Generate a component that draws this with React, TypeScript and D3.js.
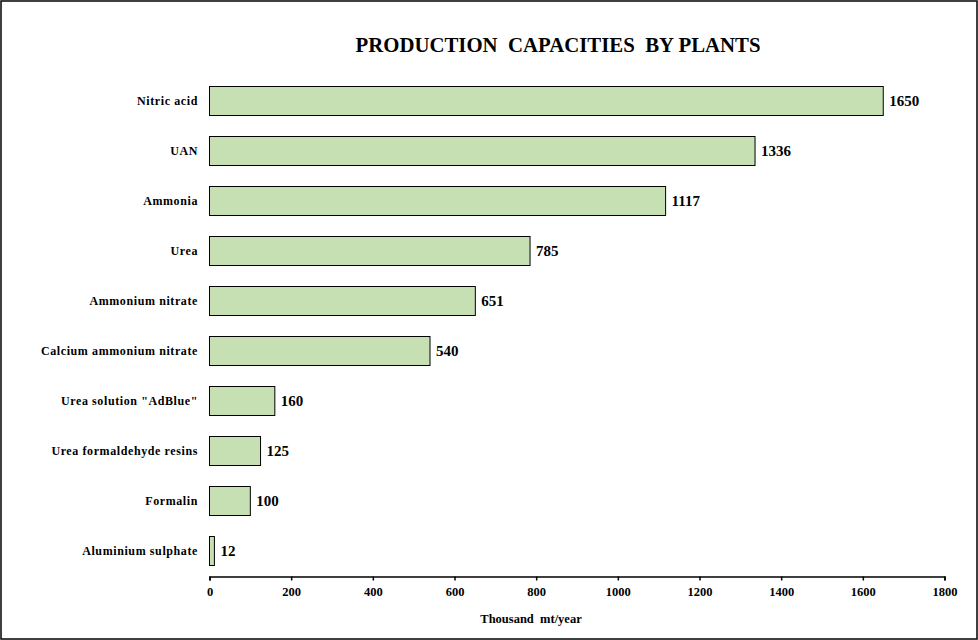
import React, { useEffect, useRef } from 'react';
import * as d3 from 'd3';

// data
const categories = [
  'Nitric acid',
  'UAN',
  'Ammonia',
  'Urea',
  'Ammonium nitrate',
  'Calcium ammonium nitrate',
  'Urea solution "AdBlue"',
  'Urea formaldehyde resins',
  'Formalin',
  'Aluminium sulphate',
];
const capacities = [1650, 1336, 1117, 785, 651, 540, 160, 125, 100, 12];
const xTicks = [0, 200, 400, 600, 800, 1000, 1200, 1400, 1600, 1800];

const App = () => {
  const svgRef = useRef<SVGSVGElement>(null);

  useEffect(() => {
    const width = 978;
    const height = 640;
    const margin = { top: 76, right: 33.5, bottom: 64, left: 209.5 };

    const svg = d3.select(svgRef.current);
    svg.selectAll('*').remove();
    svg.attr('width', width).attr('height', height);

    const font = '"Liberation Serif", "Times New Roman", serif';

    // frame
    svg.append('rect')
      .attr('x', 1).attr('y', 1)
      .attr('width', width - 2).attr('height', height - 2)
      .attr('fill', '#fff').attr('stroke', '#000').attr('stroke-width', 1.5);

    svg.append('text')
      .attr('x', 558).attr('y', 52)
      .attr('text-anchor', 'middle')
      .style('font-family', font).style('font-weight', 'bold').style('font-size', '20.8px')
      .style('white-space', 'pre')
      .text('PRODUCTION  CAPACITIES  BY PLANTS');

    const x = d3.scaleLinear().domain([0, 1800]).range([margin.left, width - margin.right]);
    const y = d3.scaleBand<string>()
      .domain(categories)
      .range([margin.top, height - margin.bottom])
      .paddingInner(0.42)
      .paddingOuter(0.21);

    const rows = categories.map((c, i) => ({ c, v: capacities[i] }));

    svg.append('g').selectAll('rect')
      .data(rows).enter().append('rect')
      .attr('x', x(0))
      .attr('y', d => y(d.c)!)
      .attr('width', d => x(d.v) - x(0))
      .attr('height', y.bandwidth())
      .attr('fill', '#c6e0b4')
      .attr('stroke', '#000').attr('stroke-width', 1);

    // value labels
    svg.append('g').selectAll('text')
      .data(rows).enter().append('text')
      .attr('x', d => x(d.v) + 6)
      .attr('y', d => y(d.c)! + y.bandwidth() / 2)
      .attr('dy', '0.35em')
      .style('font-family', font).style('font-weight', 'bold').style('font-size', '15px')
      .text(d => d.v);

    // category labels
    svg.append('g').selectAll('text')
      .data(categories).enter().append('text')
      .attr('x', 198)
      .attr('y', d => y(d)! + y.bandwidth() / 2)
      .attr('dy', '0.35em')
      .attr('text-anchor', 'end')
      .style('font-family', font).style('font-weight', 'bold').style('font-size', '12px')
      .style('letter-spacing', '0.6px')
      .text(d => d);

    // x axis
    const axisY = height - margin.bottom + 0.5;
    const ax = svg.append('g')
      .attr('transform', `translate(0,${axisY})`)
      .call(d3.axisBottom(x).tickValues(xTicks).tickFormat(d3.format('d')).tickSize(4).tickSizeOuter(4).tickPadding(7));
    ax.select('.domain').attr('stroke', '#000').attr('stroke-width', 1.5);
    ax.selectAll('.tick line').attr('stroke', '#000').attr('stroke-width', 1.5);
    ax.selectAll('.tick text')
      .style('font-family', font).style('font-weight', 'bold').style('font-size', '12.5px')
      .attr('fill', '#000');

    svg.append('text')
      .attr('x', 531).attr('y', 623)
      .attr('text-anchor', 'middle')
      .style('font-family', font).style('font-weight', 'bold').style('font-size', '12.5px')
      .style('white-space', 'pre')
      .text('Thousand  mt/year');
  }, []);

  return (
    <div style={{ position: 'fixed', left: 0, top: 0 }}>
      <svg ref={svgRef} style={{ display: 'block' }}></svg>
    </div>
  );
};

export default App;
